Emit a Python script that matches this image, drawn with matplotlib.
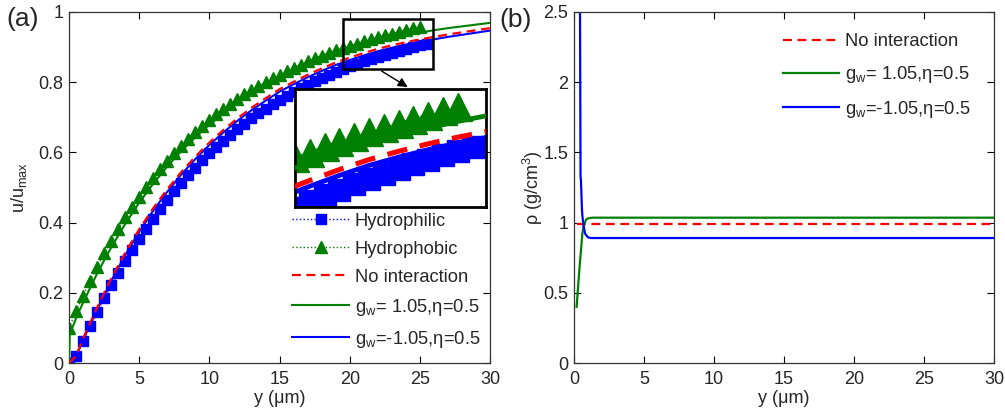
import numpy as np
import matplotlib
matplotlib.use('Agg')
import matplotlib.pyplot as plt
from matplotlib.patches import Rectangle

plt.rcParams['font.family'] = ['Liberation Sans', 'DejaVu Sans']
plt.rcParams['mathtext.fontset'] = 'custom'
plt.rcParams['mathtext.rm'] = 'Liberation Sans'
plt.rcParams['mathtext.it'] = 'Liberation Sans:italic'

# ---- panel (a): velocity profiles ----
y_marks = [0.0, 0.5, 1.0, 1.5, 2.0, 2.5, 3.0, 3.5, 4.0, 4.5, 5.0, 5.5, 6.0, 6.5, 7.0, 7.5,
           8.0, 8.5, 9.0, 9.5, 10.0, 10.5, 11.0, 11.5, 12.0, 12.5, 13.0, 13.5, 14.0, 14.5,
           15.0, 15.5, 16.0, 16.5, 17.0, 17.5, 18.0, 18.5, 19.0, 19.5, 20.0, 20.5, 21.0,
           21.5, 22.0, 22.5, 23.0, 23.5, 24.0, 24.5, 25.0, 25.5]
hydrophilic = [0.0, 0.019, 0.062, 0.104, 0.145, 0.184, 0.221, 0.256, 0.290, 0.322, 0.353,
               0.383, 0.411, 0.438, 0.464, 0.489, 0.512, 0.535, 0.556, 0.577, 0.597, 0.615,
               0.633, 0.650, 0.666, 0.682, 0.697, 0.711, 0.724, 0.737, 0.749, 0.761, 0.772,
               0.783, 0.793, 0.803, 0.812, 0.821, 0.829, 0.837, 0.845, 0.852, 0.859, 0.866,
               0.872, 0.878, 0.884, 0.890, 0.895, 0.900, 0.905, 0.910]
hydrophobic = [0.100, 0.147, 0.192, 0.234, 0.274, 0.312, 0.348, 0.382, 0.415, 0.445, 0.474,
               0.502, 0.528, 0.553, 0.576, 0.598, 0.619, 0.639, 0.658, 0.676, 0.693, 0.709,
               0.724, 0.739, 0.752, 0.765, 0.778, 0.789, 0.800, 0.811, 0.821, 0.831, 0.841,
               0.850, 0.859, 0.868, 0.876, 0.884, 0.891, 0.897, 0.903, 0.910, 0.916, 0.922,
               0.928, 0.933, 0.938, 0.943, 0.948, 0.953, 0.958]
y_line = [0, 0.05, 0.5, 1, 2, 3, 4, 5, 6, 7, 8, 9, 10, 11, 12, 13, 14, 15, 16, 17, 18, 19,
          20, 21, 22, 23, 24, 25, 26, 27, 28, 29, 30]
no_inter = [0.0, 0.002, 0.020, 0.070, 0.158, 0.240, 0.314, 0.381, 0.441, 0.495, 0.544,
            0.588, 0.628, 0.664, 0.697, 0.727, 0.754, 0.780, 0.801, 0.821, 0.839, 0.856,
            0.870, 0.883, 0.895, 0.905, 0.914, 0.922, 0.929, 0.936, 0.942, 0.948, 0.954]
g_pos = [0.0, 0.080, 0.128, 0.172, 0.255, 0.329, 0.396, 0.457, 0.511, 0.560, 0.604, 0.643,
         0.679, 0.711, 0.740, 0.766, 0.789, 0.810, 0.830, 0.848, 0.864, 0.878, 0.892,
         0.904, 0.914, 0.924, 0.933, 0.941, 0.948, 0.954, 0.959, 0.964, 0.969]
g_neg = [0.0, 0.001, 0.018, 0.066, 0.152, 0.233, 0.307, 0.374, 0.434, 0.488, 0.537, 0.581,
         0.621, 0.657, 0.690, 0.720, 0.747, 0.773, 0.794, 0.814, 0.832, 0.849, 0.863,
         0.876, 0.888, 0.898, 0.907, 0.915, 0.922, 0.929, 0.935, 0.941, 0.947]

# ---- panel (b): density profiles ----
x_red = [0.2, 30]
rho_red = [0.99, 0.99]
x_green = [0.19, 0.3, 0.43, 0.5, 0.6, 0.7, 0.86, 1.0, 1.3, 30]
rho_green = [0.40, 0.55, 0.72, 0.80, 0.92, 0.98, 1.02, 1.03, 1.035, 1.035]
x_blue = [0.43, 0.47, 0.50, 0.57, 0.60, 0.68, 0.8, 1.0, 1.2, 30]
rho_blue = [2.6, 1.33, 1.30, 1.10, 1.05, 0.98, 0.92, 0.895, 0.89, 0.89]

BLUE = (0, 0, 1)
GREEN = (0, 0.5, 0)
RED = (1, 0, 0)
TXT = '#262626'

fig = plt.figure(figsize=(10.05, 4.16), dpi=100)
ax1 = fig.add_axes([0.0687, 0.1274, 0.4189, 0.8438])
ax2 = fig.add_axes([0.5711, 0.1274, 0.4179, 0.8438])


def draw_a(ax, scale=1.0):
    ax.plot(y_marks, hydrophilic, ':', color=BLUE, lw=1.0 * scale, marker='s',
            ms=7 * scale, mec=BLUE, mfc=BLUE, label='Hydrophilic')
    ax.plot(y_marks[:-1], hydrophobic, ':', color=GREEN, lw=1.0 * scale, marker='^',
            ms=8.5 * scale, mec=GREEN, mfc=GREEN, label='Hydrophobic')
    ax.plot(y_line, no_inter, '--', color=RED, lw=1.6 * scale, dashes=(4, 2.5),
            label='No interaction', zorder=4)
    ax.plot(y_line, g_pos, '-', color=GREEN, lw=1.5 * scale,
            label='g$_{\\mathrm{w}}$= 1.05,\u03b7=0.5', zorder=3)
    ax.plot(y_line, g_neg, '-', color=BLUE, lw=1.5 * scale,
            label='g$_{\\mathrm{w}}$=-1.05,\u03b7=0.5', zorder=2)


def style(ax):
    ax.tick_params(direction='in', length=5, width=0.8, top=True, right=True,
                   labelsize=13, labelcolor=TXT, pad=6)
    for s in ax.spines.values():
        s.set_linewidth(0.9)
        s.set_color('#333333')


draw_a(ax1)
ax1.set_xlim(0, 30)
ax1.set_ylim(0, 1)
ax1.set_xticks([0, 5, 10, 15, 20, 25, 30])
ax1.set_yticks([0, 0.2, 0.4, 0.6, 0.8, 1.0])
ax1.set_yticklabels(['0', '0.2', '0.4', '0.6', '0.8', '1'])
style(ax1)
ax1.tick_params(axis='y', pad=4)
ax1.set_xlabel('y (\u03bcm)', fontsize=13, color=TXT, labelpad=1)
ax1.set_ylabel('u/u$_{\\mathrm{max}}$', fontsize=13, color=TXT, labelpad=7)
leg = ax1.legend(loc='lower right', bbox_to_anchor=(0.985, 0.027), frameon=False,
                 fontsize=13.2, handlelength=3.1, handletextpad=0.3, labelspacing=0.6,
                 borderaxespad=0.1, borderpad=0.1)
for t in leg.get_texts():
    t.set_color(TXT)

# zoom box and arrow
ax1.add_patch(Rectangle((19.5, 0.838), 6.45, 0.142, fill=False, ec='black', lw=1.8, zorder=6))
ax1.annotate('', xy=(24.3, 0.782), xytext=(22.1, 0.836),
             arrowprops=dict(arrowstyle='-|>', color='black', lw=1.0, mutation_scale=14),
             zorder=6)

axin = fig.add_axes([0.2935, 0.5024, 0.19, 0.2837])
draw_a(axin, scale=2.3)
axin.set_xlim(19.5, 25.95)
axin.set_ylim(0.838, 0.98)
axin.set_xticks([])
axin.set_yticks([])
for s in axin.spines.values():
    s.set_linewidth(2.0)
    s.set_color('black')

# panel (b)
ax2.plot(x_red, rho_red, '--', color=RED, lw=1.6, dashes=(4, 2.5), label='No interaction')
ax2.plot(x_green, rho_green, '-', color=GREEN, lw=1.6, label='g$_{\\mathrm{w}}$= 1.05,\u03b7=0.5')
ax2.plot(x_blue, rho_blue, '-', color=BLUE, lw=1.6, label='g$_{\\mathrm{w}}$=-1.05,\u03b7=0.5')
ax2.set_xlim(0, 30)
ax2.set_ylim(0, 2.5)
ax2.set_xticks([0, 5, 10, 15, 20, 25, 30])
ax2.set_yticks([0, 0.5, 1, 1.5, 2, 2.5])
ax2.set_yticklabels(['0', '0.5', '1', '1.5', '2', '2.5'])
style(ax2)
ax2.tick_params(axis='y', pad=4)
ax2.set_xlabel('y (\u03bcm)', fontsize=13, color=TXT, labelpad=1)
ax2.set_ylabel('\u03c1 (g/cm$^{3}$)', fontsize=13, color=TXT, labelpad=-1)
leg2 = ax2.legend(loc='upper right', bbox_to_anchor=(0.953, 0.95), frameon=False,
                  fontsize=13.2, handlelength=3.1, handletextpad=0.3, labelspacing=0.75,
                  borderaxespad=0.1, borderpad=0.1)
for t in leg2.get_texts():
    t.set_color(TXT)

fig.text(0.006, 0.955, '(a)', fontsize=19, color=TXT, va='center')
fig.text(0.497, 0.952, '(b)', fontsize=19, color=TXT, va='center')

fig.savefig('out.png', dpi=100)
